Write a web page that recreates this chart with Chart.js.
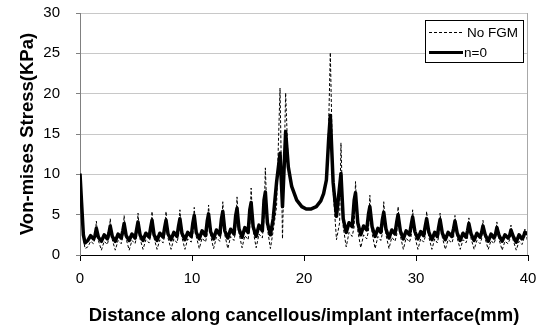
<!DOCTYPE html>
<html><head><meta charset="utf-8">
<script src="https://cdn.jsdelivr.net/npm/chart.js@4/dist/chart.umd.min.js"></script>
<style>html,body{margin:0;padding:0;background:#fff;}#wrap{width:544px;height:329px;}</style>
</head><body><div id="wrap"><canvas id="c" width="544" height="329"></canvas></div>
<script>
const seriesLabels = ['No FGM', 'n=0'];
const xTitle = 'Distance along cancellous/implant interface(mm)';
const yTitle = 'Von-mises Stress(KPa)';
const xTickValues = [0, 10, 20, 30, 40];
const yTickValues = [0, 5, 10, 15, 20, 25, 30];

const distance = [
0, 0.12, 0.3, 0.45, 0.7, 0.95, 1.2,
1.34, 1.46, 1.64, 1.91, 2.16, 2.44,
2.58, 2.70, 2.88, 3.15, 3.40, 3.68,
3.82, 3.94, 4.12, 4.39, 4.64, 4.92,
5.06, 5.18, 5.36, 5.63, 5.88, 6.17,
6.31, 6.43, 6.61, 6.88, 7.13, 7.42,
7.56, 7.68, 7.86, 8.13, 8.38, 8.66,
8.80, 8.92, 9.10, 9.37, 9.62, 9.93,
10.08, 10.20, 10.38, 10.65, 10.90, 11.21,
11.36, 11.48, 11.66, 11.93, 12.18, 12.48,
12.63, 12.75, 12.93, 13.20, 13.45, 13.75,
13.90, 14.02, 14.20, 14.47, 14.72, 15.01,
15.16, 15.28, 15.46, 15.73, 15.98, 16.28,
16.43, 16.55, 16.73, 17.00, 17.25, 17.55,
17.86, 18.08, 18.36, 18.60, 18.90, 19.35, 19.80, 20.20, 20.60, 21.10, 21.50, 21.75, 22.00, 22.20, 22.35, 22.60, 22.90,
23.18, 23.30, 23.50, 23.77, 24.02, 24.30,
24.48, 24.60, 24.80, 25.07, 25.32, 25.60,
25.76, 25.88, 26.08, 26.35, 26.60, 26.86,
27.00, 27.12, 27.32, 27.59, 27.84, 28.12,
28.28, 28.40, 28.60, 28.87, 29.12, 29.42,
29.58, 29.70, 29.90, 30.17, 30.42, 30.68,
30.83, 30.95, 31.15, 31.42, 31.67, 31.90,
32.03, 32.15, 32.35, 32.62, 32.87, 33.20,
33.36, 33.48, 33.68, 33.95, 34.20, 34.46,
34.60, 34.72, 34.92, 35.19, 35.44, 35.72,
35.86, 35.98, 36.18, 36.45, 36.70, 36.96,
37.10, 37.22, 37.42, 37.69, 37.94, 38.22,
38.36, 38.48, 38.68, 38.95, 39.20, 39.46,
39.60, 39.72, 40.00
];

const noFGM = [
10.0, 6.5, 2.0, 0.8, 1.0, 1.7, 1.4,
2.0, 4.2, 1.8, 0.6, 1.7, 1.3,
2.1, 4.5, 1.9, 0.6, 1.8, 1.4,
2.2, 4.9, 2.0, 0.6, 1.8, 1.4,
2.3, 5.2, 2.0, 0.7, 1.9, 1.5,
2.4, 5.4, 2.1, 0.7, 1.9, 1.5,
2.4, 5.4, 2.1, 0.7, 2.0, 1.5,
2.5, 5.6, 2.2, 0.7, 2.0, 1.6,
2.6, 5.9, 2.3, 0.8, 2.1, 1.6,
2.7, 6.2, 2.4, 0.8, 2.2, 1.7,
2.9, 6.6, 2.5, 0.8, 2.3, 1.8,
3.1, 7.2, 2.7, 0.9, 2.4, 1.9,
3.5, 8.3, 3.0, 0.9, 2.6, 2.1,
4.5, 10.8, 3.3, 0.8, 3.0, 6.0,
20.7, 2.0, 20.1, 10.9, 8.5, 6.8, 6.0, 5.7, 5.7, 6.0, 6.7, 7.6, 9.3, 16.0, 25.1, 8.0, 1.9,
4.0, 13.9, 3.5, 1.0, 2.8, 2.3,
3.5, 9.1, 3.0, 0.9, 2.5, 2.0,
3.0, 7.4, 2.7, 0.8, 2.3, 1.8,
2.7, 6.6, 2.5, 0.8, 2.2, 1.7,
2.5, 6.0, 2.4, 0.7, 2.1, 1.6,
2.4, 5.6, 2.3, 0.7, 2.0, 1.6,
2.3, 5.4, 2.2, 0.7, 2.0, 1.5,
2.3, 5.2, 2.2, 0.7, 1.9, 1.5,
2.2, 4.9, 2.1, 0.7, 1.9, 1.5,
2.1, 4.6, 2.0, 0.7, 1.8, 1.4,
2.0, 4.3, 2.0, 0.7, 1.8, 1.4,
2.0, 4.1, 1.9, 0.6, 1.7, 1.4,
1.9, 3.7, 1.8, 0.6, 1.7, 1.3,
1.8, 3.2, 1.5
];

const n0 = [
10.1, 7.0, 2.5, 1.5, 1.8, 2.4, 2.0,
2.4, 3.3, 2.2, 1.7, 2.5, 2.0,
2.7, 3.6, 2.3, 1.7, 2.6, 2.1,
3.0, 3.9, 2.4, 1.8, 2.6, 2.1,
3.2, 4.1, 2.5, 1.8, 2.7, 2.2,
3.4, 4.3, 2.5, 1.8, 2.7, 2.2,
3.4, 4.3, 2.6, 1.9, 2.8, 2.3,
3.6, 4.5, 2.7, 1.9, 2.8, 2.3,
4.0, 4.9, 2.8, 2.0, 3.0, 2.4,
4.2, 5.1, 2.9, 2.0, 3.1, 2.5,
4.5, 5.4, 3.0, 2.1, 3.2, 2.6,
4.9, 5.8, 3.2, 2.2, 3.4, 2.8,
5.6, 6.5, 3.5, 2.3, 3.7, 3.0,
6.8, 7.8, 4.0, 2.5, 4.5, 9.0,
12.6, 6.0, 15.3, 10.9, 8.5, 6.8, 6.0, 5.7, 5.7, 6.0, 6.7, 7.6, 9.3, 14.3, 17.3, 9.0, 4.8,
8.5, 10.1, 4.5, 2.8, 4.0, 3.5,
6.8, 7.7, 4.0, 2.5, 3.6, 3.1,
5.1, 6.0, 3.5, 2.3, 3.3, 2.8,
4.4, 5.3, 3.2, 2.1, 3.1, 2.6,
4.1, 5.0, 3.0, 2.0, 3.0, 2.5,
3.8, 4.7, 2.9, 2.0, 2.9, 2.4,
3.6, 4.5, 2.8, 1.9, 2.8, 2.3,
3.5, 4.4, 2.7, 1.9, 2.8, 2.3,
3.3, 4.2, 2.7, 1.8, 2.7, 2.2,
3.0, 3.9, 2.6, 1.8, 2.7, 2.2,
2.8, 3.6, 2.5, 1.7, 2.6, 2.1,
2.6, 3.4, 2.4, 1.7, 2.5, 2.1,
2.4, 3.1, 2.3, 1.6, 2.5, 2.0,
2.3, 2.8, 2.6
];

const FONT = "'Liberation Sans', Arial, sans-serif";

const frameAndLegend = {
  id: 'frameAndLegend',
  afterDatasetsDraw(chart) {
    const {ctx, chartArea: a} = chart;
    ctx.save();
    ctx.strokeStyle = '#a8a8a8';
    ctx.lineWidth = 1;
    ctx.beginPath();
    ctx.moveTo(Math.round(a.right) - 0.5, a.top);
    ctx.lineTo(Math.round(a.right) - 0.5, a.bottom);
    ctx.stroke();
    const bx = 425.5, by = 20.5, bw = 98, bh = 42;
    ctx.fillStyle = '#fff';
    ctx.fillRect(bx, by, bw, bh);
    ctx.strokeStyle = '#000';
    ctx.strokeRect(bx, by, bw, bh);
    const rows = [32, 52];
    chart.data.datasets.forEach((ds, i) => {
      const y = rows[i] + 0.5;
      ctx.strokeStyle = '#000';
      ctx.lineWidth = i === 0 ? 1 : 3;
      ctx.setLineDash(ds.borderDash || []);
      ctx.beginPath();
      ctx.moveTo(429, y);
      ctx.lineTo(463, y);
      ctx.stroke();
      ctx.setLineDash([]);
      ctx.fillStyle = '#000';
      ctx.font = '13.5px ' + FONT;
      ctx.textBaseline = 'middle';
      ctx.textAlign = 'left';
      ctx.fillText(ds.label, i === 0 ? 467 : 464, rows[i] + 1);
    });
    ctx.restore();
  }
};

new Chart(document.getElementById('c'), {
  type: 'line',
  data: {
    datasets: [
      {
        label: seriesLabels[0],
        data: distance.map((x, i) => ({x: x, y: noFGM[i]})),
        borderColor: '#000',
        borderWidth: 1,
        borderDash: [3, 2],
        pointRadius: 0,
        tension: 0,
        fill: false
      },
      {
        label: seriesLabels[1],
        data: distance.map((x, i) => ({x: x, y: n0[i]})),
        borderColor: '#000',
        borderWidth: 3.5,
        borderJoinStyle: 'round',
        pointRadius: 0,
        tension: 0,
        fill: false
      }
    ]
  },
  options: {
    responsive: false,
    animation: false,
    devicePixelRatio: 1,
    layout: {padding: {top: 13, right: 16, bottom: 0, left: 0}},
    plugins: {legend: {display: false}, tooltip: {enabled: false}},
    scales: {
      x: {
        type: 'linear', min: 0, max: 40,
        afterBuildTicks: s => { s.ticks = xTickValues.map(v => ({value: v})); },
        ticks: {color: '#000', font: {family: FONT, size: 15}, padding: 9, maxRotation: 0},
        grid: {drawOnChartArea: false, drawTicks: true, tickLength: 6, tickColor: '#000', color: '#000'},
        border: {color: '#000', width: 1},
        title: {display: true, text: xTitle, color: '#000', font: {family: FONT, size: 18.5, weight: 'bold'}, padding: {top: 0, bottom: 2}},
        afterFit: s => { s.height = 74; s.paddingLeft = 0; s.paddingRight = 0; }
      },
      y: {
        min: 0, max: 30,
        afterBuildTicks: s => { s.ticks = yTickValues.map(v => ({value: v})); },
        ticks: {color: '#000', font: {family: FONT, size: 15}, padding: 16},
        grid: {color: '#c8c8c8', lineWidth: 1, drawTicks: true, tickLength: 4, tickColor: '#808080'},
        border: {color: '#808080', width: 1},
        title: {display: true, text: yTitle, color: '#000', font: {family: FONT, size: 18.5, weight: 'bold'}, padding: {top: 17, bottom: 0}},
        afterFit: s => { s.width = 80; s.paddingTop = 0; s.paddingBottom = 0; }
      }
    }
  },
  plugins: [frameAndLegend]
});
</script>
</body></html>
